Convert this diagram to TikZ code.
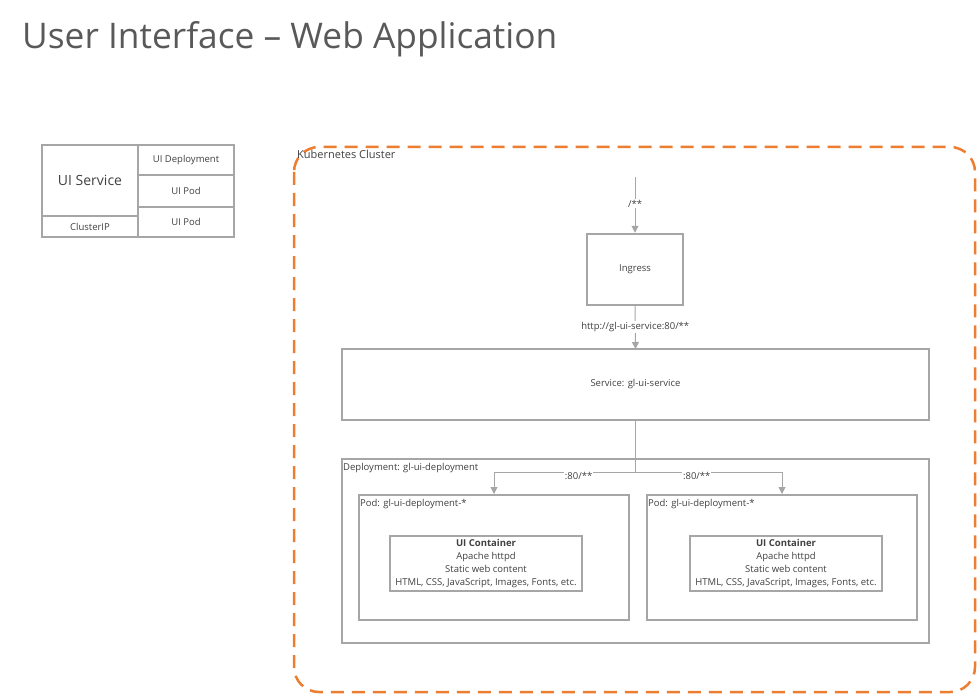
\documentclass[tikz,border=0pt]{standalone}
\usepackage{fontspec}
\setmainfont{Open Sans}
\usetikzlibrary{arrows.meta}
\definecolor{boxgray}{RGB}{166,166,166}
\definecolor{k8orange}{RGB}{237,125,49}
\definecolor{txtgray}{RGB}{64,64,64}
\definecolor{titlegray}{RGB}{89,89,89}

\begin{document}
\begin{tikzpicture}[x=1pt, y=-1pt, >={Triangle[length=7pt,width=7pt]},
    box/.style={draw=boxgray, line width=2pt, inner sep=0pt, text=txtgray, align=center, font=\fontsize{9.5}{13.2}\selectfont},
    conn/.style={draw=boxgray, line width=1pt},
    lbl/.style={fill=white, inner sep=1pt, text=txtgray, font=\fontsize{9.5}{12}\selectfont},
    corner/.style={anchor=north west, inner sep=2pt, yshift=-3.5pt, text=txtgray, font=\fontsize{9.5}{12}\selectfont}]
    \useasboundingbox (0,0) rectangle (979,695);
    % Title
    \node[anchor=base west, inner sep=0pt, text=titlegray, font=\fontsize{35.3}{40}\selectfont] (title) at (22,49) {User Interface – Web Application};
    % Legend
    \node[box, minimum width=96pt, minimum height=71pt, font=\fontsize{14}{16}\selectfont] (lsvc) at (90,180.5) {UI Service};
    \node[box, minimum width=96pt, minimum height=21pt] (lip) at (90,226.5) {ClusterIP};
    \node[box, minimum width=96pt, minimum height=30pt] (ldep) at (186,160) {UI Deployment};
    \node[box, minimum width=96pt, minimum height=32pt] (lpod1) at (186,191) {UI Pod};
    \node[box, minimum width=96pt, minimum height=30pt] (lpod2) at (186,222) {UI Pod};
    % Cluster
    \draw[k8orange, line width=2.5pt, dash pattern=on 13pt off 8pt, rounded corners=25pt] (294,147) rectangle (975,692);
    \node[corner, font=\fontsize{11}{13}\selectfont, yshift=2pt] (cluster) at (295,146) {Kubernetes Cluster};
    % Ingress and service
    \coordinate (entry) at (635,177);
    \node[box, line width=2.5pt, minimum width=96pt, minimum height=71pt] (ingress) at (635,269.5) {Ingress};
    \node[box, minimum width=587pt, minimum height=71pt] (service) at (635.5,384.5) {Service: gl-ui-service};
    \draw[conn, ->] (entry) -- (ingress.north) node[lbl, pos=0.48] {/**};
    \draw[conn, ->] (ingress.south) -- (service.north |- 0,349) node[lbl, pos=0.48] {http://gl-ui-service:80/**};
    % Deployment
    \node[box, minimum width=587pt, minimum height=184pt] (deploy) at (635.5,551) {};
    \node[corner] (deploylbl) at (deploy.north west) {Deployment: gl-ui-deployment};
    % Pods
    \foreach \s/\px/\cx in {L/494/486, R/782/786} {
        \node[box, minimum width=270pt, minimum height=125pt] (pod\s) at (\px,557.5) {};
        \node[corner] (pod\s lbl) at (pod\s.north west) {Pod: gl-ui-deployment-*};
        \node[box, minimum width=192pt, minimum height=55pt] (cont\s) at (\cx,563.5)
            {\textbf{UI Container}\\Apache httpd\\Static web content\\HTML, CSS, JavaScript, Images, Fonts, etc.};
    }
    \draw[conn] (ingress.south |- service.south) -- (635,472) coordinate (split);
    \draw[conn, ->] (split) -| (podL.north) node[lbl, pos=0.2, yshift=-3.5pt] {:80/**};
    \draw[conn, ->] (split) -| (podR.north) node[lbl, pos=0.21, yshift=-3.5pt] {:80/**};
\end{tikzpicture}
\end{document}
